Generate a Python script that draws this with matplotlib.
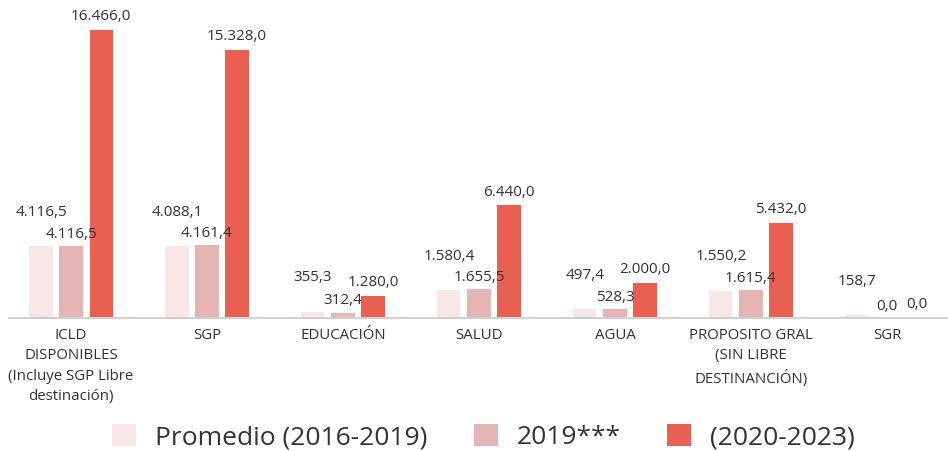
import matplotlib
matplotlib.use("Agg")
import matplotlib.pyplot as plt
import numpy as np

plt.rcParams['font.family'] = ['Open Sans', 'DejaVu Sans']

categories = [
    "ICLD\nDISPONIBLES\n(Incluye SGP Libre\ndestinación)",
    "SGP",
    "EDUCACIÓN",
    "SALUD",
    "AGUA",
    "PROPOSITO GRAL\n(SIN LIBRE\nDESTINANCIÓN)",
    "SGR",
]
series_names = ["Promedio (2016-2019)", "2019***", "(2020-2023)"]
promedio = [4116.5, 4088.1, 355.3, 1580.4, 497.4, 1550.2, 158.7]
anio_2019 = [4116.5, 4161.4, 312.4, 1655.5, 528.3, 1615.4, 0.0]
periodo = [16466.0, 15328.0, 1280.0, 6440.0, 2000.0, 5432.0, 0.0]
colors = ["#F8E5E5", "#E6B4B4", "#E96052"]
# label lift above each bar (points); first series sits higher to clear its neighbour
label_lift = [19, 3, 4]


def fmt(v):
    # thousands with dot, decimals with comma
    s = f"{v:,.1f}"
    return s.replace(",", "X").replace(".", ",").replace("X", ".")


fig = plt.figure(figsize=(9.48, 4.51), dpi=100)
ax = fig.add_axes([9 / 948, 1 - 318 / 451, 1 - 9 / 948, 308 / 451])

x = np.arange(len(categories))
width = 0.17
step = 0.221

for k, (vals, col, name) in enumerate(zip([promedio, anio_2019, periodo], colors, series_names)):
    pos = x + (k - 1) * step
    ax.bar(pos, vals, width, color=col, label=name)
    for px, v in zip(pos, vals):
        ax.annotate(fmt(v), (px, v), xytext=(0, label_lift[k]), textcoords="offset points",
                    ha="center", va="bottom", fontsize=11, color="#333333")

ax.set_xlim(-0.456, 6.449)
ax.set_ylim(0, 17609)
ax.set_xticks(x)
ax.set_xticklabels(categories, fontsize=10.8, color="#333333", linespacing=1.5)
ax.tick_params(axis="x", length=0, pad=7)
ax.set_yticks([])
for side in ["top", "right", "left"]:
    ax.spines[side].set_visible(False)
ax.spines["bottom"].set_color("#D0D0D0")
ax.spines["bottom"].set_linewidth(1.5)

fig.legend(loc="center", bbox_to_anchor=(0.51, 0.031), ncol=3, frameon=False,
           fontsize=19, handlelength=0.91, handleheight=0.91, handletextpad=0.72,
           columnspacing=1.75, labelcolor="#333333")

fig.savefig("out.png", dpi=100)
